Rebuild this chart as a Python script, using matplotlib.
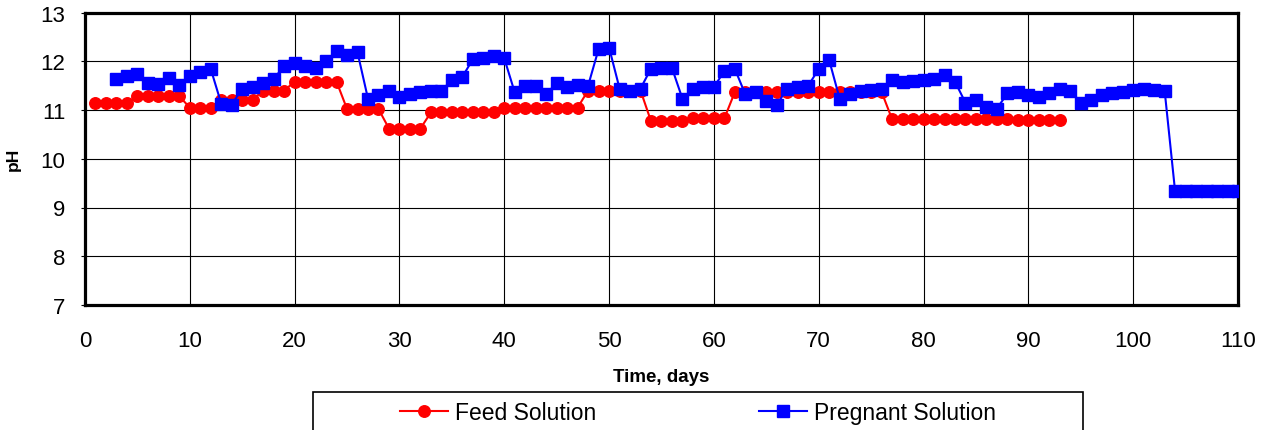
import numpy as np
import matplotlib.pyplot as plt
from matplotlib.patches import Rectangle

plt.rcParams['font.family'] = ['Liberation Sans', 'DejaVu Sans']

# Feed solution pH, days 1-93
feed_days = np.arange(1, 94)
feed_ph = ([11.15] * 4 + [11.28] * 5 + [11.05] * 3 + [11.21] * 4 +
           [11.40] * 3 + [11.58] * 5 + [11.02] * 4 + [10.62] * 4 +
           [10.95] * 7 + [11.05] * 8 + [11.40] * 6 + [10.77] * 4 +
           [10.83] * 4 + [11.37] * 15 + [10.81] * 12 + [10.79] * 5)

# Pregnant solution pH, days 3-110
preg_days = np.arange(3, 111)
preg_ph = [11.64, 11.70, 11.73, 11.56, 11.54, 11.66, 11.52, 11.70, 11.77, 11.84,
           11.13, 11.11, 11.44, 11.47, 11.56, 11.64, 11.90, 11.97, 11.90, 11.86,
           12.00, 12.21, 12.12, 12.18, 11.23, 11.30, 11.40, 11.27, 11.32, 11.36,
           11.38, 11.40, 11.61, 11.68, 12.04, 12.07, 12.11, 12.06, 11.36, 11.50,
           11.50, 11.32, 11.56, 11.47, 11.52, 11.50, 12.25, 12.28, 11.44, 11.38,
           11.44, 11.85, 11.86, 11.86, 11.23, 11.44, 11.47, 11.47, 11.80, 11.84,
           11.32, 11.36, 11.18, 11.11, 11.44, 11.47, 11.50, 11.84, 12.02, 11.23,
           11.32, 11.40, 11.42, 11.44, 11.61, 11.58, 11.59, 11.61, 11.63, 11.71,
           11.58, 11.15, 11.20, 11.06, 11.03, 11.34, 11.37, 11.30, 11.27, 11.34,
           11.44, 11.40, 11.15, 11.20, 11.30, 11.34, 11.37, 11.42, 11.44, 11.42,
           11.40] + [9.33] * 7

W, H = 1271, 431
fig = plt.figure(figsize=(W / 100, H / 100), dpi=100)
ax = fig.add_axes([85 / W, 1 - 306 / H, (1238 - 85) / W, (306 - 13.5) / H])

l1, = ax.plot(feed_days, feed_ph, color='#ff0000', lw=1.5, marker='o',
              ms=8.3, mec='#ff0000', mfc='#ff0000', label='Feed Solution', zorder=3)
l2, = ax.plot(preg_days, preg_ph, color='#0000ff', lw=1.5, marker='s',
              ms=8.7, mec='#0000ff', mfc='#0000ff', label='Pregnant Solution', zorder=4)

ax.set_xlim(0, 110)
ax.set_ylim(7, 13)
ax.set_xticks(np.arange(0, 111, 10))
ax.set_yticks(np.arange(7, 14, 1))
ax.grid(True, color='black', lw=0.8)
ax.set_axisbelow(True)
for s in ax.spines.values():
    s.set_linewidth(2.3)
ax.tick_params(axis='x', length=0, pad=18, labelsize=16)
ax.tick_params(axis='y', length=3, width=0.8, pad=11, labelsize=16)

ax.set_ylabel('pH', fontsize=12.5, fontweight='bold')
ax.yaxis.set_label_coords(-0.056, 0.5)
ax.set_xlabel('Time, days', fontsize=13.5, fontweight='bold')
ax.xaxis.set_label_coords(0.5, -0.245)
ax.xaxis.label.set_va('center')

# legend box runs past the bottom edge of the figure
fig.patches.append(Rectangle((313 / W, -0.1), (1083 - 313) / W, 1 - 393 / H + 0.1,
                             transform=fig.transFigure, fill=False,
                             edgecolor='black', lw=1.2))
fig.legend(handles=[l1, l2], loc='center', bbox_to_anchor=(698 / W, 1 - 414 / H),
           ncol=2, frameon=False, fontsize=16.5, handlelength=2.1,
           handletextpad=0.3, columnspacing=7.1)

fig.savefig('out.png', dpi=100)
